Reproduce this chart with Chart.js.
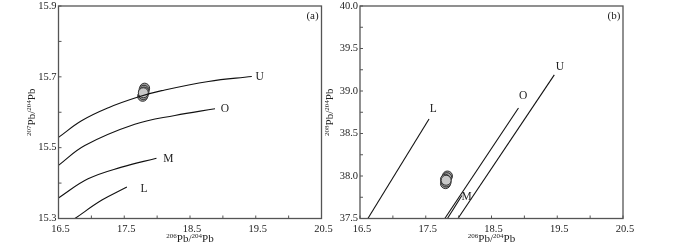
<!DOCTYPE html>
<html>
<head>
<meta charset="utf-8">
<script src="https://cdn.jsdelivr.net/npm/chart.js@4.4.0/dist/chart.umd.min.js"></script>
<style>
  body { margin: 0; background: #fff; }
  #wrap { position: relative; width: 700px; height: 244px; overflow: hidden; }
  #wrap canvas { position: absolute; top: 0; }
  #chartA { left: 0; }
  #chartB { left: 300px; }
</style>
</head>
<body>
<div id="wrap">
  <canvas id="chartA" width="345" height="244"></canvas>
  <canvas id="chartB" width="400" height="244"></canvas>
</div>
<script>
// axis ticks
var xTicks = [16.5, 17.5, 18.5, 19.5, 20.5];
var xMinor = [17.0, 18.0, 19.0, 20.0];
var yTicksA = [15.3, 15.5, 15.7, 15.9];
var yMinorA = [15.4, 15.6, 15.8];
var yTicksB = [37.5, 38.0, 38.5, 39.0, 39.5, 40.0];
var yMinorB = [37.75, 38.25, 38.75, 39.25, 39.75];

// (a) 207Pb/204Pb growth curves
var uAx = [16.5, 16.85, 17.26, 17.71, 18.07, 18.78, 19.44];
var uAy = [15.529, 15.576, 15.613, 15.643, 15.661, 15.687, 15.701];
var oAx = [16.5, 16.9, 17.66, 18.27, 18.88];
var oAy = [15.450, 15.506, 15.566, 15.591, 15.610];
var mAx = [16.5, 16.95, 17.46, 17.99];
var mAy = [15.358, 15.412, 15.445, 15.470];
var lAx = [16.75, 17.16, 17.54];
var lAy = [15.300, 15.352, 15.389];

// (b) 208Pb/204Pb growth curves
var uBx = [17.99, 19.455];
var uBy = [37.5, 39.19];
var oBx = [17.79, 18.91];
var oBy = [37.5, 38.80];
var mBx = [17.83, 18.05];
var mBy = [37.5, 37.77];
var lBx = [16.62, 17.55];
var lBy = [37.5, 38.67];

// samples
var sampleAx = [17.81, 17.80, 17.78, 17.79, 17.80, 17.79];
var sampleAy = [15.668, 15.662, 15.645, 15.650, 15.657, 15.655];
var sampleBx = [17.83, 17.82, 17.80, 17.81, 17.80, 17.81];
var sampleBy = [38.00, 37.98, 37.91, 37.93, 37.96, 37.95];

// curve names and where they sit
var curveNames = ['U', 'O', 'M', 'L'];
var nameAx = [19.56, 19.03, 18.17, 17.80];
var nameAy = [15.700, 15.608, 15.468, 15.384];
var nameBx = [19.54, 18.98, 18.12, 17.615];
var nameBy = [39.28, 38.94, 37.75, 38.784];

function pts(xs, ys) {
    var out = [];
    for (var i = 0; i < xs.length; i++) out.push({x: xs[i], y: ys[i]});
    return out;
}

function curve(xs, ys, tension) {
    return {
        data: pts(xs, ys),
        showLine: true,
        pointRadius: 0,
        borderColor: '#111',
        borderWidth: 1.1,
        tension: tension
    };
}

// draws e.g. 206Pb/204Pb with small raised numbers
function drawIso(ctx, a, b, cx, cy, rot) {
    var parts = [[a, true], ['Pb/', false], [b, true], ['Pb', false]];
    var big = '11px "Liberation Serif"', small = '7px "Liberation Serif"';
    var w = 0;
    parts.forEach(function(p) { ctx.font = p[1] ? small : big; w += ctx.measureText(p[0]).width; });
    ctx.save();
    ctx.translate(cx, cy);
    ctx.rotate(rot);
    ctx.fillStyle = '#222';
    ctx.textBaseline = 'alphabetic';
    ctx.textAlign = 'left';
    var x = -w / 2;
    parts.forEach(function(p) {
        ctx.font = p[1] ? small : big;
        ctx.fillText(p[0], x, p[1] ? -4 : 0);
        x += ctx.measureText(p[0]).width;
    });
    ctx.restore();
}

var framePlugin = {
    id: 'frame',
    afterDraw: function(chart) {
        var o = chart.options.plugins.frame;
        var ctx = chart.ctx, a = chart.chartArea;
        var xs = chart.scales.x, ys = chart.scales.y;
        ctx.save();
        ctx.strokeStyle = '#555';
        ctx.lineWidth = 1.3;
        ctx.strokeRect(a.left, a.top, a.right - a.left, a.bottom - a.top);
        ctx.lineWidth = 1;
        ctx.beginPath();
        xTicks.concat(xMinor).forEach(function(v) {
            var px = xs.getPixelForValue(v);
            ctx.moveTo(px, a.bottom); ctx.lineTo(px, a.bottom - 3);
        });
        o.yTicks.concat(o.yMinor).forEach(function(v) {
            var py = ys.getPixelForValue(v);
            ctx.moveTo(a.left, py); ctx.lineTo(a.left + 3, py);
        });
        ctx.stroke();

        ctx.fillStyle = '#222';
        ctx.font = '11.5px "Liberation Serif"';
        ctx.textAlign = 'center';
        ctx.textBaseline = 'middle';
        for (var i = 0; i < curveNames.length; i++) {
            ctx.fillText(curveNames[i], xs.getPixelForValue(o.nameX[i]), ys.getPixelForValue(o.nameY[i]));
        }
        ctx.font = '11px "Liberation Serif"';
        ctx.fillText(o.panel, a.right - 9, a.top + 10);
        ctx.restore();

        drawIso(ctx, '206', '204', (a.left + a.right) / 2, 242, 0);
        drawIso(ctx, o.ySup, '204', o.yTitleX, (a.top + a.bottom) / 2, -Math.PI / 2);
    }
};

function makeChart(id, o) {
    var tickFont = {family: '"Liberation Serif"', size: 10.5};
    new Chart(document.getElementById(id), {
        type: 'scatter',
        data: {
            datasets: o.curves.concat([{
                data: pts(o.sx, o.sy),
                pointRadius: 5,
                pointBackgroundColor: ['#9a9a9a', '#a5a5a5', '#9a9a9a', '#a5a5a5', '#b0b0b0', '#c8c8c8'],
                pointBorderColor: '#333',
                pointBorderWidth: 1
            }])
        },
        options: {
            responsive: false,
            animation: false,
            events: [],
            layout: {padding: {left: 0, right: o.padRight, top: 4, bottom: 0}},
            plugins: {
                legend: {display: false},
                tooltip: {enabled: false},
                frame: o
            },
            scales: {
                x: {
                    type: 'linear', min: 16.5, max: 20.5,
                    afterBuildTicks: function(s) { s.ticks = xTicks.map(function(v) { return {value: v}; }); },
                    afterFit: function(s) { s.height = 25.5; s.paddingLeft = 0; s.paddingRight = 0; },
                    grid: {display: false, drawTicks: false},
                    border: {display: false},
                    ticks: {font: tickFont, color: '#222', padding: 4, labelOffset: 2, maxRotation: 0, autoSkip: false,
                        callback: function(v) { return v.toFixed(1); }}
                },
                y: {
                    type: 'linear', min: o.yMin, max: o.yMax,
                    afterBuildTicks: function(s) { s.ticks = o.yTicks.map(function(v) { return {value: v}; }); },
                    afterFit: function(s) { s.width = o.yWidth; s.paddingTop = 0; s.paddingBottom = 0; },
                    grid: {display: false, drawTicks: false},
                    border: {display: false},
                    ticks: {font: tickFont, color: '#222', padding: 2, autoSkip: false,
                        callback: function(v) { return v.toFixed(1); }}
                }
            }
        },
        plugins: [framePlugin]
    });
}

makeChart('chartA', {
    curves: [curve(uAx, uAy, 0.4), curve(oAx, oAy, 0.4), curve(mAx, mAy, 0.4), curve(lAx, lAy, 0.4)],
    sx: sampleAx, sy: sampleAy,
    yMin: 15.3, yMax: 15.9, yTicks: yTicksA, yMinor: yMinorA,
    nameX: nameAx, nameY: nameAy,
    panel: '(a)', ySup: '207', yTitleX: 35,
    yWidth: 58.5, padRight: 23.5
});

makeChart('chartB', {
    curves: [curve(uBx, uBy, 0), curve(oBx, oBy, 0), curve(mBx, mBy, 0), curve(lBx, lBy, 0)],
    sx: sampleBx, sy: sampleBy,
    yMin: 37.5, yMax: 40.0, yTicks: yTicksB, yMinor: yMinorB,
    nameX: nameBx, nameY: nameBy,
    panel: '(b)', ySup: '208', yTitleX: 33,
    yWidth: 60, padRight: 77
});
</script>
</body>
</html>
